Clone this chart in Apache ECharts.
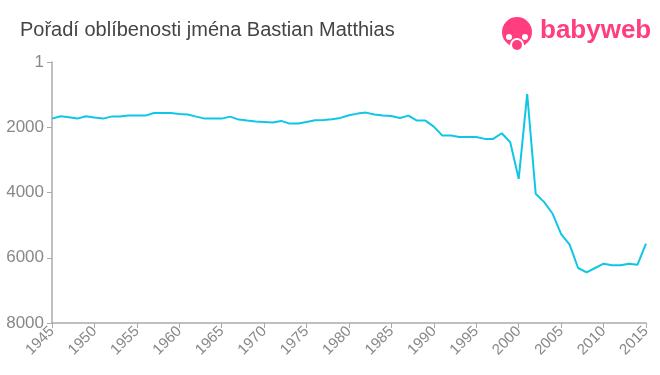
<!DOCTYPE html>
<html>
<head>
<meta charset="utf-8">
<script src="https://cdn.jsdelivr.net/npm/echarts@6/dist/echarts.min.js"></script>
<style>html,body{margin:0;padding:0;background:#fff}#c{width:660px;height:375px}</style>
</head>
<body>
<div id="c"></div>
<script>
var years = [];
for (var y = 1945; y <= 2015; y++) years.push(y);
var ranks = [1735,1663,1693,1735,1663,1704,1735,1674,1674,1643,
             1643,1643,1561,1561,1561,1592,1612,1674,1735,1735,
             1735,1674,1765,1796,1826,1836,1857,1806,1888,1888,
             1836,1785,1775,1755,1714,1630,1582,1551,1612,1643,
             1653,1714,1643,1796,1796,1980,2255,2255,2296,2296,
             2296,2357,2357,2183,2459,3581,980,4040,4295,4652,
             5273,5600,6314,6447,6314,6182,6233,6233,6182,6212,
             5570];
var yTicks = [1, 2000, 4000, 6000, 8000];
var title = 'Pořadí oblíbenosti jména Bastian Matthias';

var data = years.map(function (yr, i) { return [yr, ranks[i]]; });
var chart = echarts.init(document.getElementById('c'), null, {renderer: 'canvas'});
chart.setOption({
  animation: false,
  backgroundColor: '#fff',
  title: {
    text: title, left: 15, top: 15,
    textStyle: {fontFamily: 'Liberation Sans, Arial, sans-serif', fontSize: 20, fontWeight: 'normal', color: '#444'}
  },
  graphic: [
    {type: 'circle', shape: {cx: 517, cy: 32, r: 15}, style: {fill: '#ff3d7f'}},
    {type: 'circle', shape: {cx: 517, cy: 45, r: 7}, style: {fill: '#fff'}},
    {type: 'circle', shape: {cx: 517, cy: 45, r: 5}, style: {fill: '#ff3d7f'}},
    {type: 'circle', shape: {cx: 509, cy: 37, r: 3}, style: {fill: '#fff'}},
    {type: 'circle', shape: {cx: 525, cy: 37, r: 3}, style: {fill: '#fff'}},
    {type: 'text', left: 540, top: 18, style: {text: 'babyweb', fill: '#ff3d7f', font: 'bold 26px "Liberation Sans", Arial, sans-serif'}}
  ],
  grid: {left: 52, right: 14, top: 62, bottom: 52, containLabel: false},
  xAxis: {
    type: 'value', min: 1945, max: 2015, interval: 5,
    axisLine: {show: true, onZero: false, lineStyle: {color: '#aaa', width: 1.5}},
    axisTick: {show: true, length: 5, lineStyle: {color: '#aaa'}},
    splitLine: {show: false},
    axisLabel: {rotate: 45, fontSize: 15, color: '#888', fontFamily: 'Liberation Sans, Arial, sans-serif', margin: 6,
      formatter: function (v) { return String(v); }}
  },
  yAxis: {
    type: 'value', inverse: true, min: 0, max: 8000, interval: 2000,
    axisLine: {show: true, onZero: false, lineStyle: {color: '#aaa', width: 1.5}},
    axisTick: {show: true, length: 5, lineStyle: {color: '#aaa'}},
    splitLine: {show: false},
    axisLabel: {fontSize: 17, color: '#888', fontFamily: 'Liberation Sans, Arial, sans-serif', margin: 8,
      formatter: function (v) { return v === 0 ? String(yTicks[0]) : String(v); }}
  },
  series: [{
    type: 'line', data: data, showSymbol: false, symbol: 'none',
    lineStyle: {color: '#10c6e6', width: 2}
  }]
});
</script>
</body>
</html>
